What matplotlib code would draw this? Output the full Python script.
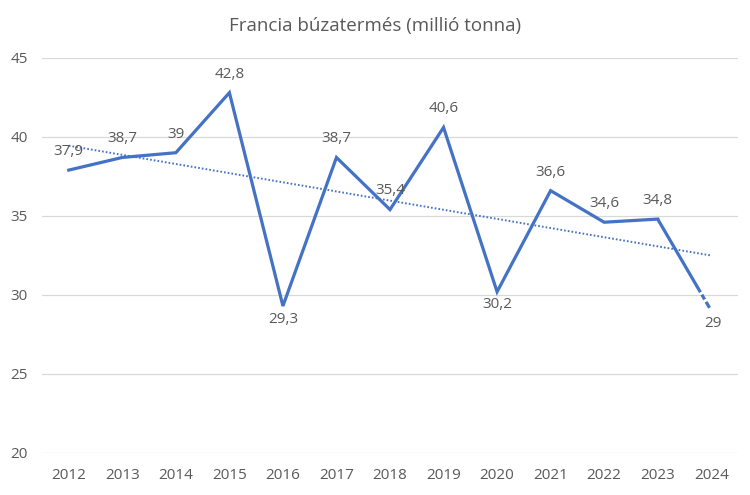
import numpy as np
import matplotlib.pyplot as plt

years = ['2012', '2013', '2014', '2015', '2016', '2017', '2018',
         '2019', '2020', '2021', '2022', '2023', '2024']
values = [37.9, 38.7, 39.0, 42.8, 29.3, 38.7, 35.4, 40.6, 30.2, 36.6, 34.6, 34.8, 29.0]
below = ['2016', '2020', '2024']

blue = '#4472C4'
grey = '#595959'

plt.rcParams['font.family'] = ['Open Sans', 'DejaVu Sans']
plt.rcParams['lines.scale_dashes'] = False

fig = plt.figure(figsize=(7.5, 4.95), dpi=100)
ax = fig.add_axes([0.056, 0.085, 0.928, 0.798])

x = np.arange(len(years))
y = np.array(values)

# solid line up to 2023, last segment mostly solid then dashed
ax.plot(x[:-1], y[:-1], color=blue, lw=2.3, solid_joinstyle='miter', zorder=3)
ax.plot(x[-2:], y[-2:], color=blue, lw=2.3, zorder=3,
        linestyle=(0, (61, 2, 4, 2, 5, 100)))

# linear trendline
k, b = np.polyfit(x, y, 1)
ax.plot(x, k * x + b, color=blue, lw=1.4, linestyle=(0, (1.2, 1.5)), zorder=2)

for xi, yi, yr in zip(x, y, years):
    txt = f'{yi:g}'.replace('.', ',')
    if yr in below:
        ax.annotate(txt, (xi, yi), xytext=(1 if yr == '2024' else 0, -4),
                    textcoords='offset points',
                    ha='center', va='top', fontsize=11, color=grey)
    else:
        ax.annotate(txt, (xi, yi), xytext=(0, 8), textcoords='offset points',
                    ha='center', va='bottom', fontsize=11, color=grey)

ax.set_xlim(-0.5, len(years) - 0.5)
ax.set_ylim(20, 45)
ax.set_yticks(range(20, 46, 5))
ax.set_xticks(x)
ax.set_xticklabels(years)
ax.tick_params(length=0, labelsize=11, labelcolor=grey)
ax.tick_params(axis='x', pad=11)
ax.tick_params(axis='y', pad=10)
ax.grid(axis='y', color='#D9D9D9', lw=0.9)
ax.set_axisbelow(True)
for s in ax.spines.values():
    s.set_visible(False)

fig.suptitle('Francia búzatermés (millió tonna)', y=0.965, fontsize=13.5, color=grey)

fig.savefig('out.png', dpi=100)
